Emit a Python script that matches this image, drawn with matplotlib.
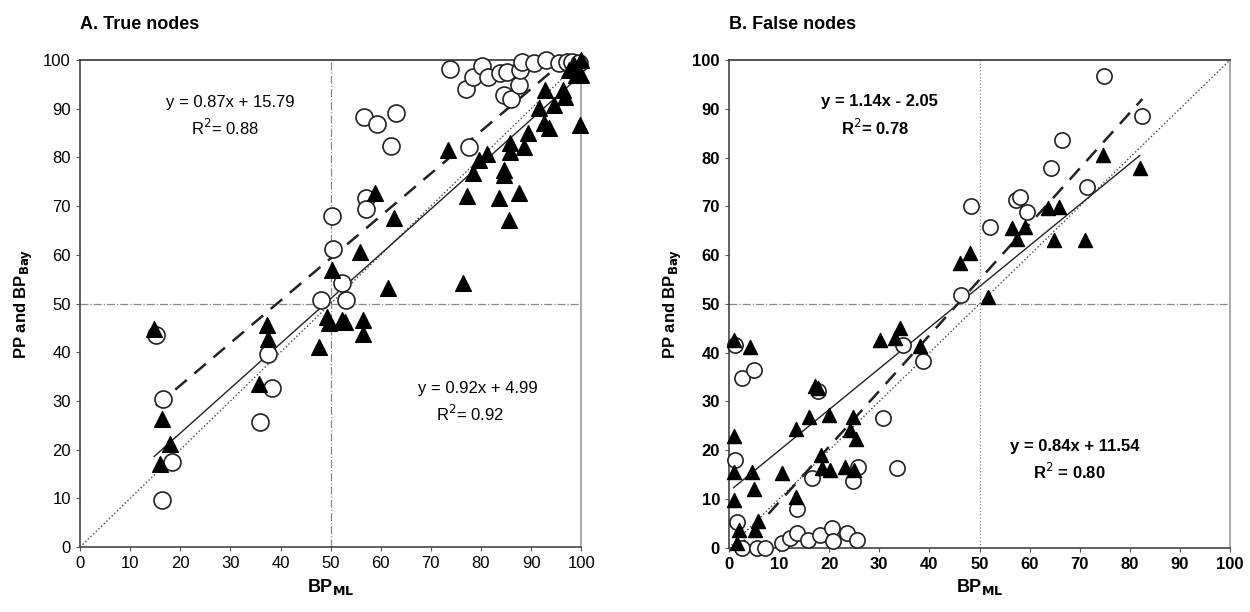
import numpy as np
import matplotlib
matplotlib.use('Agg')
import matplotlib.pyplot as plt

plt.rcParams['font.family'] = ['Liberation Sans', 'DejaVu Sans']

# ---- panel A: true nodes ----
a_circ_x = [15.2, 16.6, 18.3, 16.4, 35.9, 37.6, 38.3, 48.0, 53.1, 52.2, 50.4, 50.2,
            57.1, 57.1, 56.6, 59.2, 63.0, 62.0, 73.9, 77.0, 77.6, 78.5, 80.2, 81.4,
            83.7, 85.2, 84.5, 86.0, 87.5, 87.8, 88.2, 90.5, 93.0, 95.5, 97.1, 98.1, 99.5]
a_circ_y = [43.5, 30.5, 17.4, 9.6, 25.7, 39.6, 32.7, 50.8, 50.8, 54.2, 61.2, 67.9,
            71.6, 69.5, 88.3, 86.8, 89.2, 82.3, 98.1, 94.0, 82.1, 96.6, 98.8, 96.6,
            97.3, 97.6, 92.8, 91.9, 94.9, 97.9, 99.6, 99.3, 100, 99.3, 99.6, 99.6, 99.3]
a_tri_x = [14.8, 16.3, 18.0, 16.0, 35.7, 37.3, 37.6, 47.6, 49.2, 49.6, 52.2, 52.9,
           56.5, 56.5, 55.9, 50.2, 61.5, 58.9, 62.7,
           73.5, 76.5, 77.2, 78.5, 79.7, 81.2, 83.5, 84.6, 84.6, 85.6, 85.7, 85.7,
           87.5, 88.6, 89.3, 91.5, 92.6, 92.7, 93.5, 94.6, 96.3, 96.8,
           97.5, 98.5, 99.0, 99.7, 100, 100]
a_tri_y = [44.8, 26.4, 21.2, 17.1, 33.5, 45.5, 42.8, 41.1, 47.2, 46.0, 46.6, 46.2,
           46.6, 43.8, 60.5, 56.8, 53.1, 72.6, 67.5,
           81.6, 54.2, 72.1, 76.7, 79.4, 80.8, 71.6, 77.4, 76.4, 67.1, 82.9, 81.2,
           72.7, 82.2, 85.1, 90.1, 87.0, 93.8, 86.0, 90.8, 93.8, 92.5,
           98, 99, 97, 86.6, 100, 97]
a_fit_circ = (0.87, 15.79, 0.88)
a_fit_tri = (0.92, 4.99, 0.92)

# ---- panel B: false nodes ----
b_circ_x = [1.2, 2.5, 4.9, 1.2, 1.5, 2.5, 5.5, 7.2, 10.5, 12.2, 13.5, 15.8, 18.2,
            20.5, 20.8, 23.5, 25.5, 13.5, 16.5, 17.8, 24.8, 25.8, 30.8, 33.5, 34.8,
            38.8, 46.4, 48.4, 52.1, 57.3, 58.1, 59.4, 64.3, 66.4, 71.4, 74.9, 82.5]
b_circ_y = [41.6, 34.8, 36.5, 18.0, 5.2, 0, 0, 0, 1.0, 2.0, 3.0, 1.6, 2.7,
            4.0, 1.3, 3.0, 1.6, 8.0, 14.3, 32.2, 13.6, 16.5, 26.6, 16.3, 41.6,
            38.2, 51.8, 70.1, 65.8, 71.3, 72.0, 68.9, 77.8, 83.6, 73.9, 96.7, 88.5]
b_tri_x = [0.9, 4.2, 1.0, 1.0, 0.9, 4.5, 5.0, 5.8, 5.2, 2.0, 1.5, 10.5, 13.3, 13.3,
           16.0, 17.2, 17.8, 20.0, 18.3, 18.5, 20.2, 23.2, 24.2, 24.8, 25.3, 25.0,
           30.1, 33.1, 34.1, 38.1, 46.1, 48.1, 51.6, 56.4, 57.4, 59.1, 63.7, 64.9,
           65.9, 71.1, 74.6, 82.0]
b_tri_y = [42.5, 41.1, 23.0, 15.5, 9.7, 15.5, 12.0, 5.5, 3.7, 3.7, 1.0, 15.3, 10.5, 24.4,
           26.9, 33.2, 32.8, 27.3, 19.1, 16.3, 16.0, 16.5, 24.2, 26.9, 22.3, 16.0,
           42.6, 43.0, 45.0, 41.3, 58.3, 60.4, 51.5, 65.5, 63.3, 65.8, 69.6, 63.1,
           69.9, 63.1, 80.5, 77.8]
b_fit_circ = (1.14, -2.05, 0.78)
b_fit_tri = (0.84, 11.54, 0.80)

fig = plt.figure(figsize=(12.5, 6.12), dpi=100)
axA = fig.add_axes([0.064, 0.106, 0.401, 0.796])
axB = fig.add_axes([0.5832, 0.105, 0.4008, 0.797])


def eq_text(m, b):
    sign = '+' if b >= 0 else '-'
    return 'y = %.2fx %s %.2f' % (m, sign, abs(b))


def panel(ax, cx, cy, tx, ty, fc, ft, title, vstyle, bold, msize):
    ax.set_xlim(0, 100)
    ax.set_ylim(0, 100)
    ax.plot([0, 100], [0, 100], ':', color='#444', lw=1.0, zorder=1)
    ax.axhline(50, color='#888', lw=0.9, ls='-.', zorder=0)
    ax.axvline(50, color='#888', lw=0.9, ls=vstyle, zorder=0)

    ax.scatter(cx, cy, s=msize, facecolors='white', edgecolors='#222',
               linewidths=1.2, zorder=3, clip_on=False)
    ax.scatter(tx, ty, s=msize * 0.85, marker='^', color='black', zorder=4,
               clip_on=False)

    xs = np.array([min(cx), max(cx)])
    ax.plot(xs, fc[0] * xs + fc[1], color='#222', lw=1.8, dashes=(6, 4), zorder=2)
    xs = np.array([min(tx), max(tx)])
    ax.plot(xs, ft[0] * xs + ft[1], color='#222', lw=1.0, zorder=2)

    ax.set_xticks(range(0, 101, 10))
    ax.set_yticks(range(0, 101, 10))
    w = 'bold' if bold else 'normal'
    ax.tick_params(labelsize=12, length=3, width=0.8, color='#555')
    for lab in ax.get_xticklabels() + ax.get_yticklabels():
        lab.set_fontweight(w)
    ax.spines['top'].set_color('#333')
    ax.spines['right'].set_color('#999')
    ax.spines['left'].set_color('#444')
    ax.spines['bottom'].set_color('#444')
    for s in ax.spines.values():
        s.set_linewidth(1.2)

    ax.set_xlabel('BP$_{\\mathbf{ML}}$', fontsize=13, fontweight='bold', labelpad=4)
    ax.set_ylabel('PP and BP$_{\\mathbf{Bay}}$', fontsize=12, fontweight='bold', labelpad=6)
    ax.set_title(title, fontsize=13, fontweight='bold', loc='left', pad=22)


panel(axA, a_circ_x, a_circ_y, a_tri_x, a_tri_y, a_fit_circ, a_fit_tri,
      'A. True nodes', '-.', False, 150)
panel(axB, b_circ_x, b_circ_y, b_tri_x, b_tri_y, b_fit_circ, b_fit_tri,
      'B. False nodes', ':', True, 120)

axA.text(30, 91.2, eq_text(*a_fit_circ[:2]), ha='center', va='center', fontsize=12)
axA.text(29, 86.0, 'R$^2$= %.2f' % a_fit_circ[2], ha='center', va='center', fontsize=12)
axA.text(79.4, 32.6, eq_text(*a_fit_tri[:2]), ha='center', va='center', fontsize=12)
axA.text(77.8, 27.4, 'R$^2$= %.2f' % a_fit_tri[2], ha='center', va='center', fontsize=12)

axB.text(30.1, 91.4, eq_text(*b_fit_circ[:2]), ha='center', va='center',
         fontsize=12, fontweight='bold')
axB.text(29.1, 86.0, 'R$^2$= %.2f' % b_fit_circ[2], ha='center', va='center',
         fontsize=12, fontweight='bold')
axB.text(69, 20.7, eq_text(*b_fit_tri[:2]), ha='center', va='center',
         fontsize=12, fontweight='bold')
axB.text(68, 15.6, 'R$^2$ = %.2f' % b_fit_tri[2], ha='center', va='center',
         fontsize=12, fontweight='bold')

fig.savefig('out.png', dpi=100)
